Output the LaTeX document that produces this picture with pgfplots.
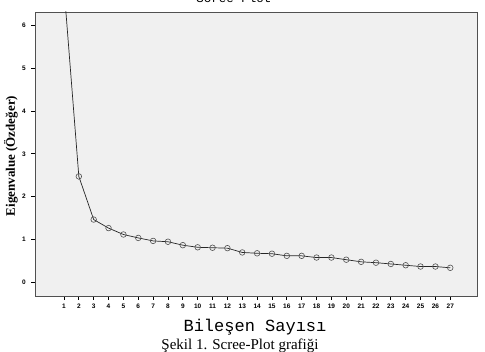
\documentclass[border=0pt]{standalone}
\usepackage{fontspec}
\setmainfont{Liberation Serif}
\newfontfamily\monofont{Liberation Mono}
\newfontfamily\sansfont{Liberation Sans}
\usepackage{pgfplots}
\pgfplotsset{compat=1.18}
\definecolor{bg}{HTML}{F0F0F0}
\definecolor{framec}{HTML}{505050}
\definecolor{markc}{HTML}{505050}

\pgfplotstableread{
x y
1 6.90
2 2.47
3 1.46
4 1.26
5 1.11
6 1.03
7 0.96
8 0.94
9 0.86
10 0.81
11 0.80
12 0.79
13 0.69
14 0.67
15 0.66
16 0.61
17 0.61
18 0.57
19 0.57
20 0.52
21 0.47
22 0.45
23 0.42
24 0.39
25 0.36
26 0.36
27 0.33
}\scree

\begin{document}
\begin{tikzpicture}[x=1pt,y=1pt]
\begin{axis}[
  at={(35pt,56pt)}, anchor=south west,
  scale only axis, width=442pt, height=284pt,
  xmin=-0.95, xmax=28.8, ymin=-0.33, ymax=6.32,
  axis background/.style={fill=bg},
  axis line style={draw=framec, line width=0.8pt},
  xtick={1,...,27}, ytick={0,...,6},
  tick align=outside, major tick length=4pt,
  tick style={black, line width=0.8pt},
  tick pos=left,
  /pgf/number format/assume math mode=true,
  xticklabel style={font=\sansfont\bfseries\fontsize{6.5}{6.5}\selectfont, inner sep=1pt, yshift=-3pt},
  yticklabel style={font=\sansfont\bfseries\fontsize{6.5}{6.5}\selectfont, inner sep=1pt, xshift=-4pt},
  clip=true,
]
\addplot[color=black!85, line width=0.7pt, mark=o, mark size=2.8pt,
  mark options={draw=markc, fill=bg, line width=0.6pt}] table[x=x,y=y] {\scree};
\end{axis}
\node[anchor=base, font=\monofont\fontsize{12.5}{12.5}\selectfont] at (234,349) {Scree Plot};
\node[rotate=90, font=\bfseries\fontsize{13}{13}\selectfont] at (11,196) {Eigenvalue (Özdeğer)};
\node[anchor=base, font=\monofont\fontsize{17}{17}\selectfont] at (255,20) {Bileşen Sayısı};
\node[anchor=base, font=\fontsize{15}{15}\selectfont] at (240,2) {Şekil 1. Scree-Plot grafiği};
\pgfresetboundingbox
\useasboundingbox (0,0) rectangle (485,352);
\end{tikzpicture}
\end{document}
